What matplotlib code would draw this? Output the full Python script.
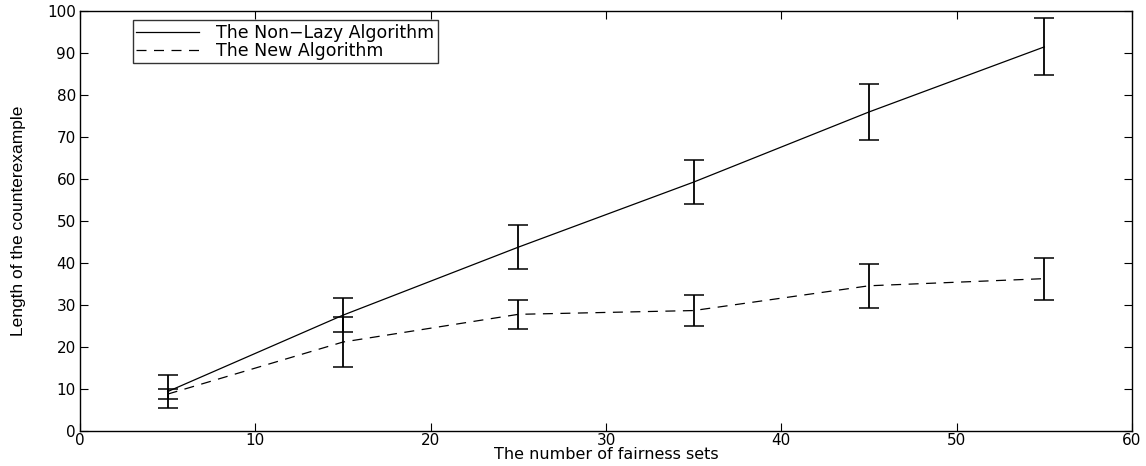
import matplotlib
matplotlib.use("Agg")
import matplotlib.pyplot as plt
from matplotlib.lines import Line2D

# data
fairness_sets = [5, 15, 25, 35, 45, 55]
nonlazy_mean = [9.4, 27.6, 43.8, 59.3, 76.0, 91.5]
nonlazy_err = [3.9, 4.1, 5.2, 5.2, 6.6, 6.8]
new_mean = [8.8, 21.2, 27.8, 28.7, 34.6, 36.3]
new_err = [1.2, 5.9, 3.5, 3.7, 5.3, 5.0]

xticks = [0, 10, 20, 30, 40, 50, 60]
yticks = [0, 10, 20, 30, 40, 50, 60, 70, 80, 90, 100]
labels = ['The Non\u2212Lazy Algorithm', 'The New Algorithm']

plt.rcParams['font.family'] = ['DejaVu Sans']

fig = plt.figure(figsize=(11.46, 4.66), dpi=100)
ax = fig.add_axes([0.0698, 0.075, 0.918, 0.901])

dash = (0, (8, 6))
ax.errorbar(fairness_sets, nonlazy_mean, yerr=nonlazy_err, color='black',
            linestyle='-', linewidth=0.9, elinewidth=1.3, capsize=7,
            capthick=1.1)
ax.errorbar(fairness_sets, new_mean, yerr=new_err, color='black',
            linestyle=dash, linewidth=0.9, elinewidth=1.3, capsize=7,
            capthick=1.1)

ax.set_xlim(0, 60)
ax.set_ylim(0, 100)
ax.set_xticks(xticks)
ax.set_yticks(yticks)
ax.tick_params(direction='in', top=True, right=True, length=6, labelsize=11,
               pad=3)
ax.tick_params(axis='x', pad=1.5)
for s in ax.spines.values():
    s.set_linewidth(1.0)

ax.set_xlabel('The number of fairness sets', fontsize=11.5, labelpad=-1)
ax.set_ylabel('Length of the counterexample', fontsize=12.5,
              family=['Liberation Sans Narrow', 'Liberation Sans'], labelpad=15)

# legend handles without the error bar markers
handles = [Line2D([], [], color='black', linewidth=0.9, linestyle='-'),
           Line2D([], [], color='black', linewidth=0.9, linestyle=dash)]
leg = ax.legend(handles, labels,
                loc='upper left', bbox_to_anchor=(0.05, 0.978), fontsize=12.5,
                frameon=True, fancybox=False, borderpad=0.2, labelspacing=0.0,
                handlelength=3.6, handletextpad=1.0, borderaxespad=0)
leg.get_frame().set_edgecolor('black')
leg.get_frame().set_linewidth(1.0)

fig.savefig('out.png', dpi=100)
